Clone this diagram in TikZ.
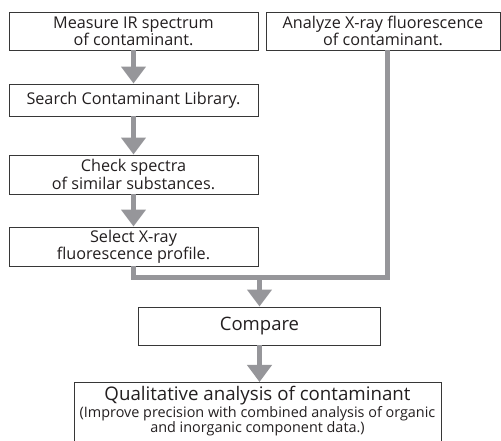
\documentclass[tikz,border=0pt]{standalone}
\usepackage{fontspec}
\setmainfont{Open Sans}
\usetikzlibrary{arrows.meta}
\definecolor{flowgray}{RGB}{150,150,154}
\definecolor{boxline}{RGB}{55,55,55}
\definecolor{inktext}{RGB}{35,31,32}

\begin{document}
\begin{tikzpicture}[x=1pt, y=1pt,
  stepbox/.style={draw=boxline, line width=0.9pt, fill=white, text=inktext,
    align=center, inner sep=0pt, font=\fontsize{16.2}{14.5}\selectfont},
  flow/.style={draw=flowgray, line width=5pt, line join=miter},
  flowarrow/.style={flow, -{Triangle[width=24pt, length=17pt]}}]
\useasboundingbox (0,0) rectangle (501,441);

% IR branch
\node[stepbox, minimum width=249, minimum height=38] (meas) at (133.5,410) {Measure IR spectrum\\of contaminant.};
\node[stepbox, minimum width=249, minimum height=32] (search) at (133.5,341) {Search Contaminant Library.};
\node[stepbox, minimum width=249, minimum height=39] (check) at (133.5,266.5) {Check spectra\\of similar substances.};
\node[stepbox, minimum width=249, minimum height=39] (select) at (133.5,194.5) {Select X-ray\\fluorescence profile.};

% XRF branch
\node[stepbox, minimum width=234, minimum height=38] (xrf) at (383,410) {Analyze X-ray fluorescence\\of contaminant.};

% Result
\node[stepbox, minimum width=242, minimum height=38, font=\fontsize{18.5}{20}\selectfont] (compare) at (259.5,115) {Compare};
\node[stepbox, anchor=north, minimum width=367, inner ysep=4pt, font=\fontsize{14.4}{14.8}\selectfont] (qual) at (257.5,59)
  {{\fontsize{18.7}{20}\selectfont Qualitative analysis of contaminant}\\
   (Improve precision with combined analysis of organic\\
   and inorganic component data.)\\
   \rule{0pt}{20pt}};

% Connectors
\coordinate (mr) at (387.5,163);
\draw[flowarrow] (meas.south) -- (search.north);
\draw[flowarrow] (search.south) -- (check.north);
\draw[flowarrow] (check.south) -- (select.north);
\draw[flow] (select.south) |- (mr) -- (mr |- xrf.south);
\draw[flowarrow] (compare.north |- mr) -- (compare.north);
\draw[flowarrow] (compare.south) -- (compare.south |- qual.north);
\end{tikzpicture}
\end{document}
